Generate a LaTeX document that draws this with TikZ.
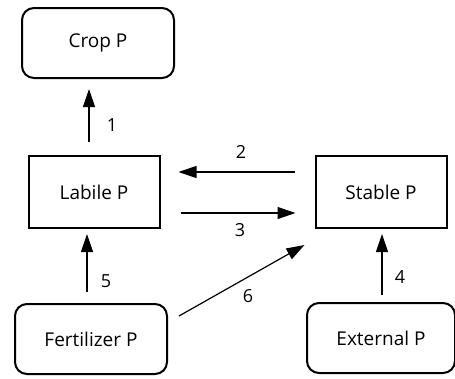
\documentclass[tikz,border=0pt]{standalone}
\usepackage{fontspec}
\setmainfont{Open Sans}
\usepackage{tikz}
\usetikzlibrary{positioning, arrows.meta}

\begin{document}
\begin{tikzpicture}[x=1pt, y=-1pt,
    pool/.style={draw, line width=2pt, rounded corners=12pt, minimum width=152pt, minimum height=70pt, font=\fontsize{19}{21}\selectfont},
    store/.style={draw, line width=2pt, minimum width=131pt, minimum height=72pt, font=\fontsize{19}{21}\selectfont},
    flow/.style={line width=1.2pt, -{Triangle[length=18pt, width=12pt]}},
    num/.style={font=\fontsize{18}{20}\selectfont}]
    \useasboundingbox (0,0) rectangle (455,378);

    % 1. Pools
    \node[pool] (crop) at (98,43) {Crop P};
    \node[store] (labile) at (94,192) {Labile P};
    \node[store] (stable) at (381,192) {Stable P};
    \node[pool] (fert) at (91,339) {Fertilizer P};
    \node[pool, minimum width=148pt] (ext) at (381,338) {External P};

    % 2. Flows
    \draw[flow] ([xshift=-5pt, yshift=13pt]labile.north) -- ([xshift=-9pt, yshift=-10pt]crop.south);
    \draw[flow] ([xshift=-20pt, yshift=20pt]stable.west) -- ([xshift=18pt, yshift=20pt]labile.east);
    \draw[flow] ([xshift=20pt, yshift=-21pt]labile.east) -- ([xshift=-19pt, yshift=-21pt]stable.west);
    \draw[flow] ([xshift=-4pt, yshift=11pt]fert.north) -- ([xshift=-7pt, yshift=-5pt]labile.south);
    \draw[flow] ([xshift=1pt, yshift=7pt]ext.north) -- ([xshift=1pt, yshift=-5pt]stable.south);
    \draw[flow] ([xshift=11pt, yshift=23pt]fert.east) -- ([xshift=-10pt, yshift=-53pt]stable.west);

    % 3. Labels
    \node[num] (n1) at (112,125) {1};
    \node[num] (n2) at (241,152) {2};
    \node[num] (n3) at (240,230) {3};
    \node[num] (n4) at (400,277) {4};
    \node[num] (n5) at (106,281) {5};
    \node[num] (n6) at (248,296) {6};
\end{tikzpicture}
\end{document}
